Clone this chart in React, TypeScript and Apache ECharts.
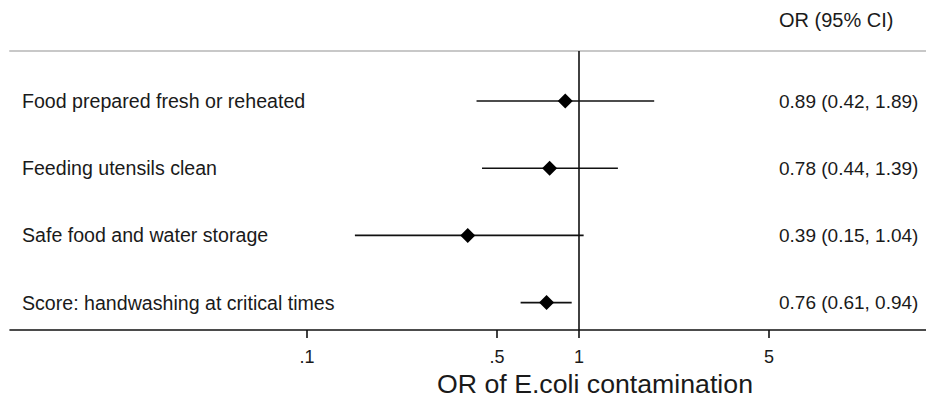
import React, { useEffect, useRef } from "react";
import * as echarts from "echarts";

const rowLabels = [
  "Food prepared fresh or reheated",
  "Feeding utensils clean",
  "Safe food and water storage",
  "Score: handwashing at critical times",
];
const orValues = [0.89, 0.78, 0.39, 0.76];
const ciLow = [0.42, 0.44, 0.15, 0.61];
const ciHigh = [1.89, 1.39, 1.04, 0.94];
const tickValues = [0.1, 0.5, 1, 5];
const tickLabels = [".1", ".5", "1", "5"];
const headerText = "OR (95% CI)";
const axisTitle = "OR of E.coli contamination";

const FONT = "'Liberation Sans', Arial, sans-serif";
const TXT = "#1a1a1a";
const LINE = "#111111";

export default function App() {
  const ref = useRef<HTMLDivElement>(null);
  useEffect(() => {
    if (!ref.current) return;
    const chart = echarts.init(ref.current, undefined, { renderer: "svg" });
    const rows = rowLabels.map((_, i) => i);
    const logTicks = tickValues.map((v) => Math.log10(v));
    const tickFmt = (v: number) => {
      let best = 0;
      let bd = Infinity;
      logTicks.forEach((t, i) => {
        const d = Math.abs(t - v);
        if (d < bd) {
          bd = d;
          best = i;
        }
      });
      return tickLabels[best];
    };
    const rowFmt = (arr: string[]) => (v: number) => {
      const i = Math.round(v);
      return arr[i] ?? "";
    };
    const ciTexts = orValues.map(
      (v, i) => `${v.toFixed(2)} (${ciLow[i].toFixed(2)}, ${ciHigh[i].toFixed(2)})`
    );
    const xMin = (10 - 579) / 272;
    const xMax = (926 - 579) / 272;
    const yMin = -50 / 67.2;
    const yMax = 229 / 67.2;

    chart.setOption({
      animation: false,
      textStyle: { fontFamily: FONT },
      grid: { left: 10, right: 0, top: 51, bottom: 75, containLabel: false },
      xAxis: [
        {
          type: "value",
          position: "bottom",
          min: xMin,
          max: xMax,
          axisLine: { show: true, onZero: false, lineStyle: { color: LINE, width: 1.6 } },
          axisTick: {
            show: true,
            length: 8,
            customValues: logTicks,
            lineStyle: { color: LINE, width: 1.6 },
          },
          axisLabel: {
            show: true,
            customValues: logTicks,
            formatter: tickFmt,
            margin: 18,
            fontSize: 18,
            color: TXT,
            fontFamily: FONT,
          },
          splitLine: { show: false },
        },
        {
          type: "value",
          position: "top",
          min: xMin,
          max: xMax,
          axisLine: { show: true, onZero: false, lineStyle: { color: "#c8c8c8", width: 2 } },
          axisTick: { show: false },
          axisLabel: { show: false },
          splitLine: { show: false },
        },
      ],
      yAxis: [
        {
          type: "value",
          position: "left",
          inverse: true,
          min: yMin,
          max: yMax,
          axisLine: { show: false, onZero: false },
          axisTick: { show: false },
          splitLine: { show: false },
          axisLabel: {
            inside: true,
            margin: 12,
            customValues: rows,
            formatter: rowFmt(rowLabels),
            fontSize: 19.6,
            color: TXT,
            fontFamily: FONT,
            align: "left",
          },
        },
        {
          type: "value",
          position: "right",
          inverse: true,
          min: yMin,
          max: yMax,
          axisLine: { show: false, onZero: false },
          axisTick: { show: false },
          splitLine: { show: false },
          axisLabel: {
            inside: true,
            margin: 147,
            customValues: rows,
            formatter: rowFmt(ciTexts),
            fontSize: 19,
            color: TXT,
            fontFamily: FONT,
            align: "left",
          },
        },
      ],
      graphic: [
        {
          type: "text",
          x: 779,
          y: 20,
          style: {
            text: headerText,
            font: `20px ${FONT}`,
            fill: TXT,
            textAlign: "left",
            textVerticalAlign: "middle",
          },
        },
        {
          type: "text",
          x: 595,
          y: 384,
          style: {
            text: axisTitle,
            font: `26.7px ${FONT}`,
            fill: TXT,
            textAlign: "center",
            textVerticalAlign: "middle",
          },
        },
      ],
      series: [
        {
          type: "custom",
          xAxisIndex: 0,
          yAxisIndex: 0,
          data: rows.map((i) => [Math.log10(ciLow[i]), Math.log10(ciHigh[i]), i]),
          renderItem: (params: any, api: any) => {
            const p1 = api.coord([api.value(0), api.value(2)]);
            const p2 = api.coord([api.value(1), api.value(2)]);
            return {
              type: "line",
              shape: { x1: p1[0], y1: p1[1], x2: p2[0], y2: p2[1] },
              style: { stroke: LINE, lineWidth: 1.6 },
            };
          },
          markLine: {
            silent: true,
            symbol: "none",
            label: { show: false },
            lineStyle: { color: LINE, width: 1.6, type: "solid" },
            data: [{ xAxis: 0 }],
          },
          z: 2,
        },
        {
          type: "scatter",
          xAxisIndex: 0,
          yAxisIndex: 0,
          symbol: "diamond",
          symbolSize: [15, 15],
          itemStyle: { color: "#000000", opacity: 1 },
          data: rows.map((i) => [Math.log10(orValues[i]), i]),
          z: 3,
        },
      ],
    });
    return () => chart.dispose();
  }, []);
  return (
    <div
      ref={ref}
      style={{ position: "fixed", left: 0, top: 0, width: 926, height: 405, background: "#fff" }}
    />
  );
}
